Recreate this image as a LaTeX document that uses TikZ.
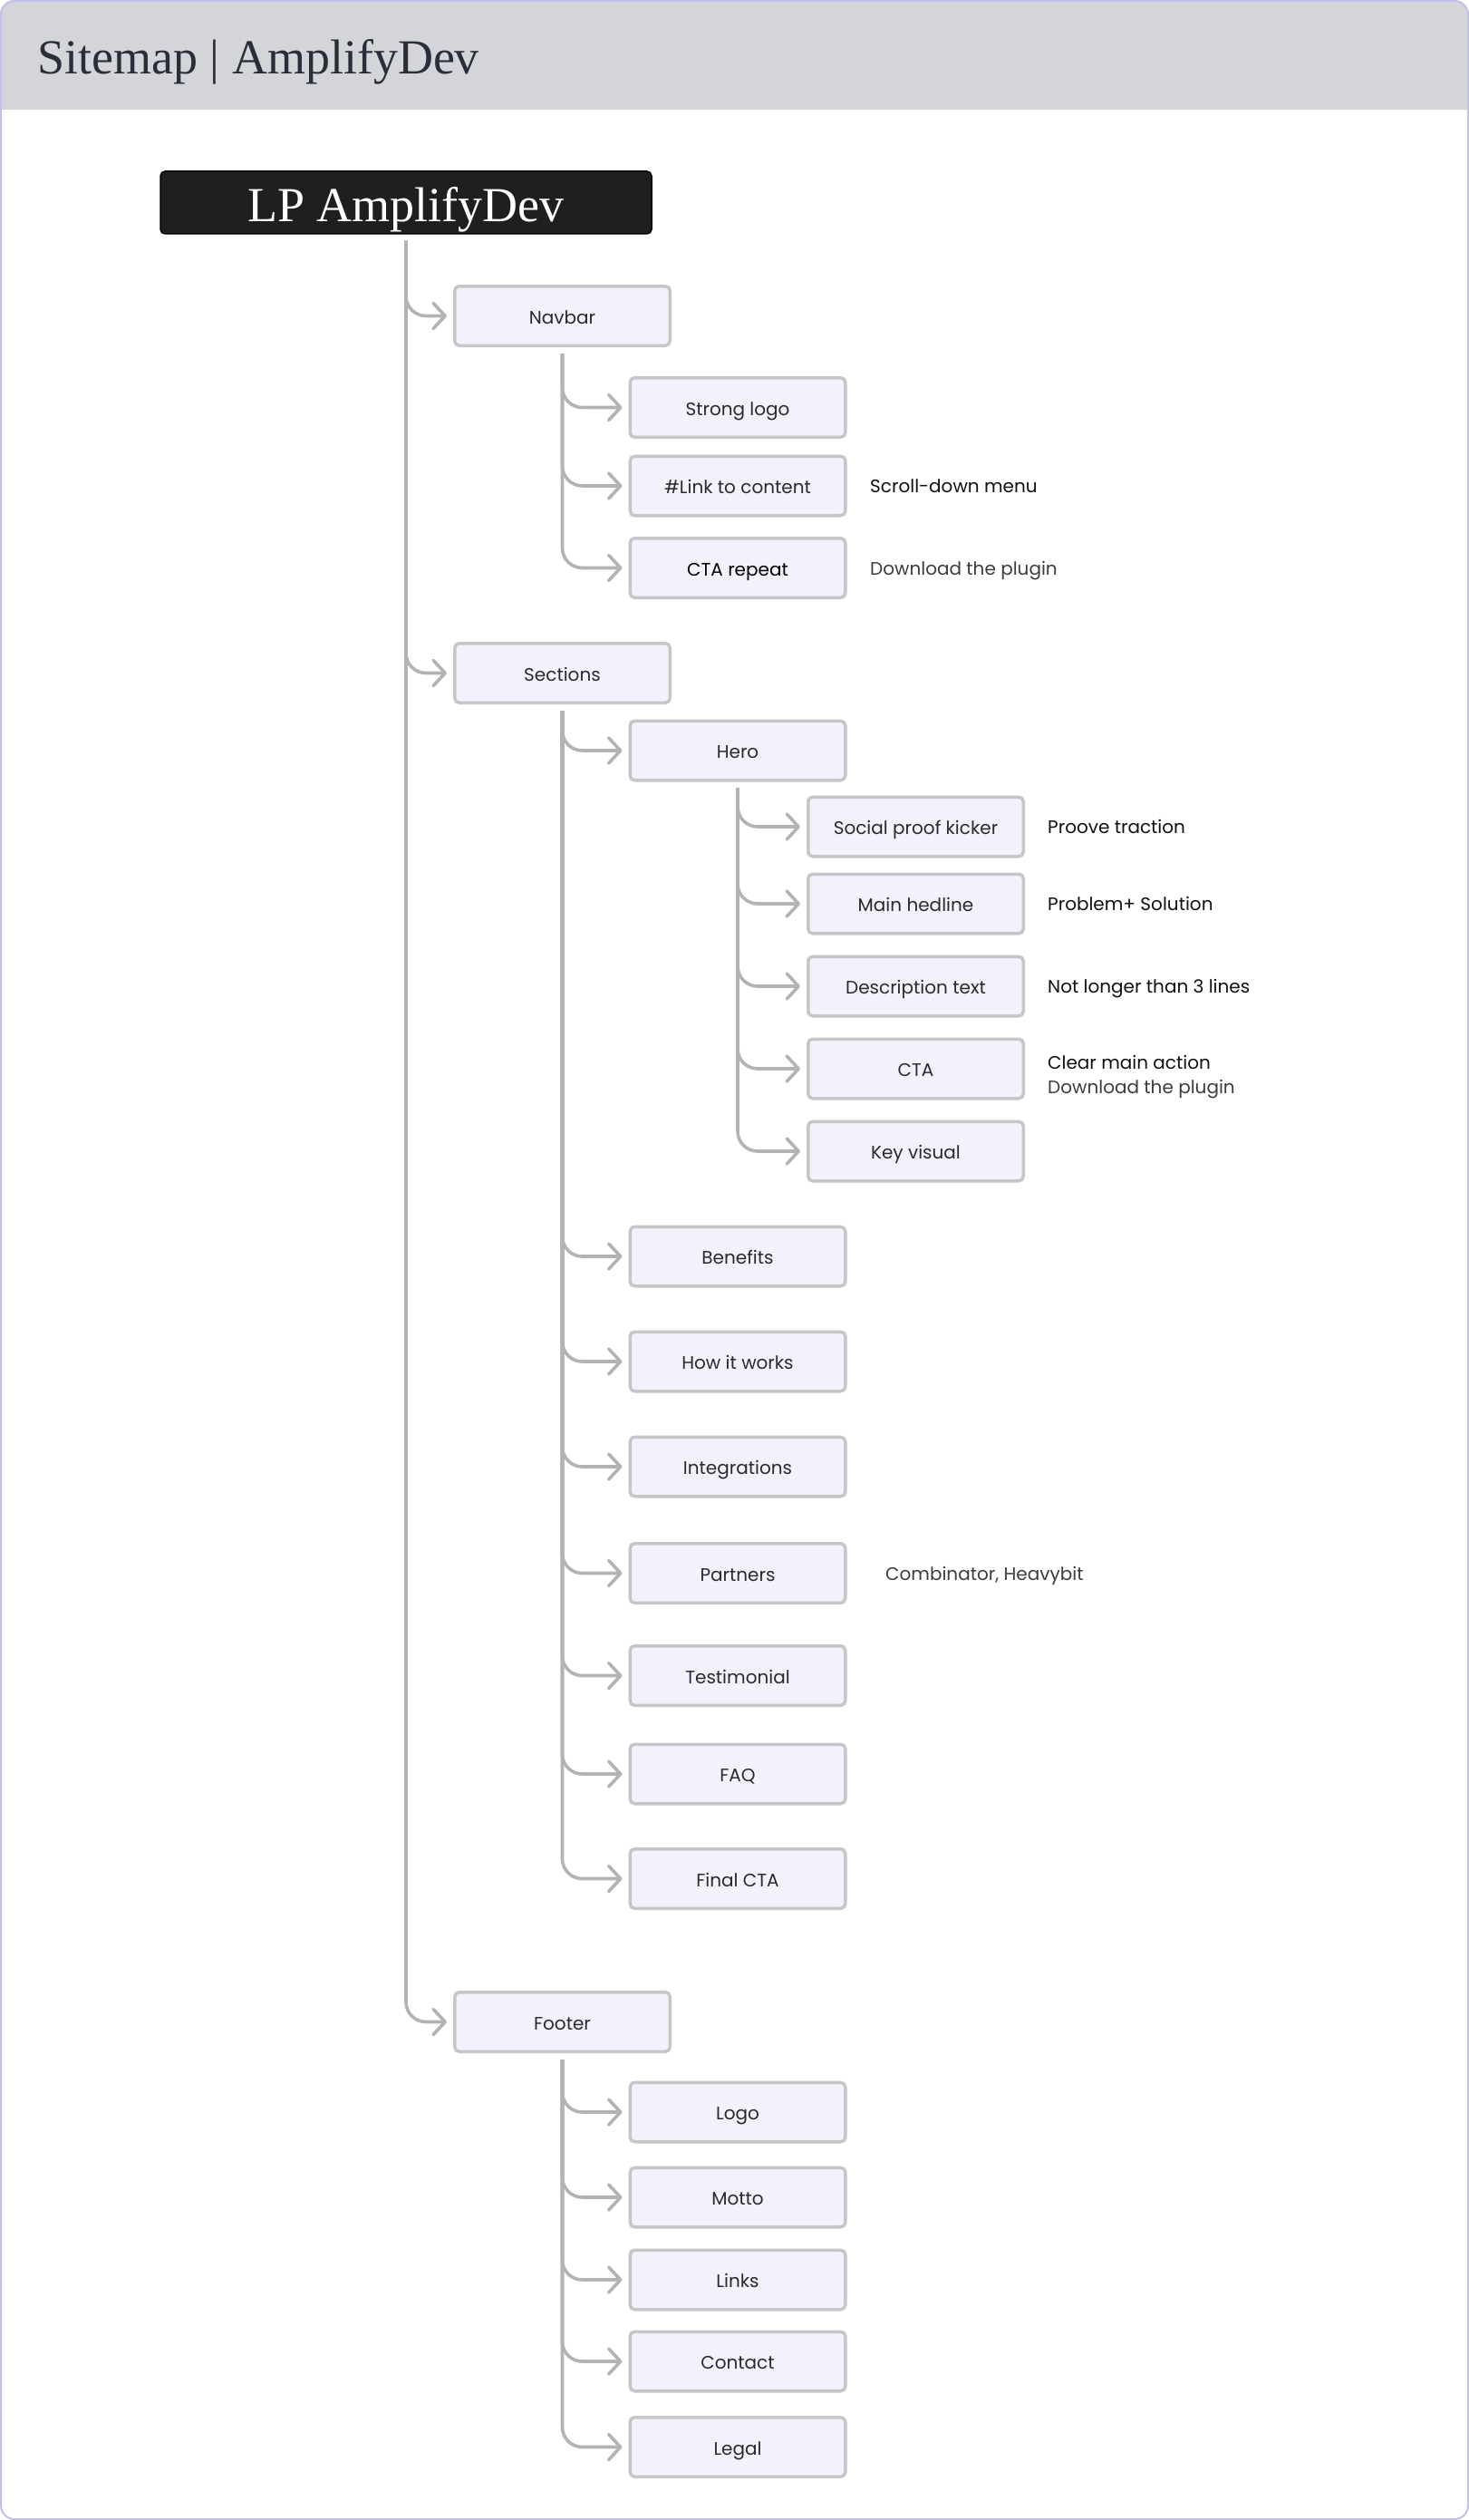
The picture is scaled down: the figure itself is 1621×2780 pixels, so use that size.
\documentclass[tikz,border=0pt]{standalone}
\usepackage{fontspec}
\usetikzlibrary{arrows.meta}
\newfontfamily\uifont{Poppins}
\newfontfamily\serifttl{Liberation Serif}
\definecolor{hdrgray}{HTML}{D4D5D9}
\definecolor{framecol}{HTML}{C3BFEE}
\definecolor{titlecol}{HTML}{2B2E3A}
\definecolor{lpfill}{HTML}{1F1F1F}
\definecolor{boxfill}{HTML}{F3F2FC}
\definecolor{boxline}{HTML}{C6C6C9}
\definecolor{linecol}{HTML}{B3B3B3}
\definecolor{labelcol}{HTML}{2A2A2A}
\definecolor{notedark}{HTML}{111111}
\definecolor{notegray}{HTML}{3C3C3C}
\begin{document}
\begin{tikzpicture}[x=1pt,y=-1pt,
  box/.style={draw=boxline, fill=boxfill, line width=3.5pt, rounded corners=5pt,
    minimum width=237.5pt, minimum height=65.5pt, inner sep=0pt,
    text height=17pt, text depth=0pt,
    font=\uifont\fontsize{20}{24}\selectfont, text=labelcol},
  lpbox/.style={draw=black, fill=lpfill, line width=1.5pt, rounded corners=5pt,
    minimum width=542pt, minimum height=69pt, inner sep=0pt,
    text height=43pt, text depth=0pt,
    font=\serifttl\fontsize{54}{60}\selectfont, text=white},
  note/.style={anchor=base west, inner sep=0pt,
    font=\uifont\fontsize{20}{24}\selectfont, text=notedark},
  notelight/.style={note, text=notegray},
  conn/.style={draw=linecol, line width=3.6pt, rounded corners=22pt,
    -{Straight Barb[length=13pt,width=28pt,round]}},
]
\useasboundingbox (0,0) rectangle (1621,2780);
% frame and header
\begin{scope}
  \clip[rounded corners=15pt] (1,1) rectangle (1620,2779);
  \fill[white] (0,0) rectangle (1621,2780);
  \fill[hdrgray] (0,0) rectangle (1621,121);
\end{scope}
\draw[framecol, line width=2pt, rounded corners=15pt] (1,1) rectangle (1620,2779);
\node[anchor=base west, inner sep=0pt, text=titlecol,
  font=\serifttl\fontsize{54}{60}\selectfont] (title) at (41,82) {Sitemap | AmplifyDev};

% root
\node[lpbox] (lp) at (448,223.5) {LP AmplifyDev};

% level 1
\node[box] (nav)  at (620.5,348.5)  {Navbar};
\node[box] (sec)  at (620.5,742.5)  {Sections};
\node[box] (foot) at (620.5,2230.5) {Footer};

% navbar children
\node[box] (slogo) at (814,449.5) {Strong logo};
\node[box] (link)  at (814,536)   {\#Link to content};
\node[box, text=black] (ctar)  at (814,626.5) {CTA repeat};

% sections children
\node[box] (hero)  at (814,828)    {Hero};
\node[box] (benef) at (814,1386)   {Benefits};
\node[box] (how)   at (814,1502)   {How it works};
\node[box] (integ) at (814,1618)   {Integrations};
\node[box] (partn) at (814,1735.5) {Partners};
\node[box] (testi) at (814,1848.5) {Testimonial};
\node[box] (faq)   at (814,1957)   {FAQ};
\node[box] (fcta)  at (814,2072.5) {Final CTA};

% hero children
\node[box] (spk) at (1010.5,912)  {Social proof kicker};
\node[box] (mh)  at (1010.5,997)  {Main hedline};
\node[box] (dt)  at (1010.5,1088) {Description text};
\node[box] (cta) at (1010.5,1179) {CTA};
\node[box] (kv)  at (1010.5,1270) {Key visual};

% footer children
\node[box] (logo)    at (814,2330)   {Logo};
\node[box] (motto)   at (814,2424)   {Motto};
\node[box] (links)   at (814,2515)   {Links};
\node[box] (contact) at (814,2605)   {Contact};
\node[box] (legal)   at (814,2699.5) {Legal};

% notes
\node[note] (scroll) at (960,543) {Scroll-down menu};
\node[notelight] (dlpa) at (960,634) {Download the plugin};
\node[note] (proove) at (1156,919) {Proove traction};
\node[note] (probl) at (1156,1004) {Problem+ Solution};
\node[note] (notl) at (1156,1095) {Not longer than 3 lines};
\node[note] (clear) at (1156,1179) {Clear main action};
\node[notelight] (dlpb) at (1156,1206) {Download the plugin};
\node[notelight] (combi) at (977,1743) {Combinator, Heavybit};

% connectors
\foreach \c in {nav,sec,foot}
  \draw[conn] ([yshift=-7pt]lp.south) |- ([xshift=-7pt]\c.west);
\foreach \c in {slogo,link,ctar}
  \draw[conn] ([yshift=-7pt]nav.south) |- ([xshift=-7pt]\c.west);
\foreach \c in {hero,benef,how,integ,partn,testi,faq,fcta}
  \draw[conn] ([yshift=-7pt]sec.south) |- ([xshift=-7pt]\c.west);
\foreach \c in {spk,mh,dt,cta,kv}
  \draw[conn] ([yshift=-7pt]hero.south) |- ([xshift=-7pt]\c.west);
\foreach \c in {logo,motto,links,contact,legal}
  \draw[conn] ([yshift=-7pt]foot.south) |- ([xshift=-7pt]\c.west);
\end{tikzpicture}
\end{document}
